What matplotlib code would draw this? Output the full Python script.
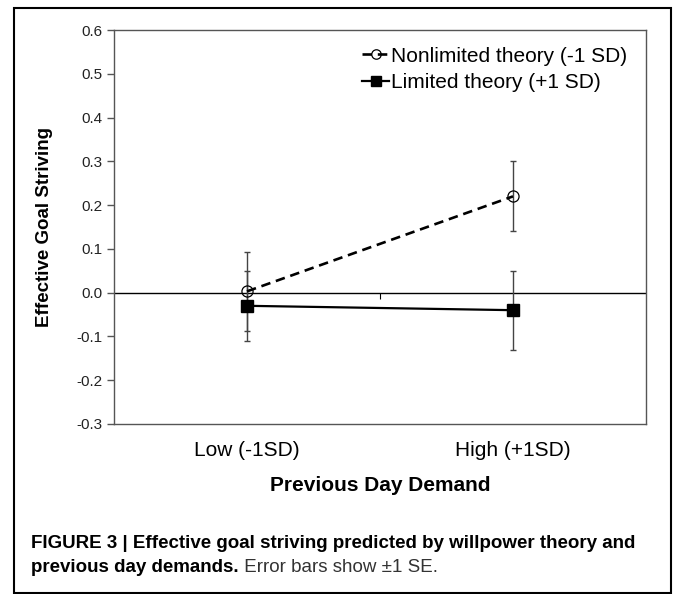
import matplotlib.pyplot as plt
from matplotlib.patches import Rectangle

plt.rcParams['font.family'] = ['Liberation Sans', 'DejaVu Sans']

categories = ['Low (-1SD)', 'High (+1SD)']
nonlimited = [0.003, 0.22]
nonlimited_se = [0.09, 0.08]
limited = [-0.03, -0.04]
limited_se = [0.08, 0.09]
yticks = [-0.3, -0.2, -0.1, 0.0, 0.1, 0.2, 0.3, 0.4, 0.5, 0.6]

fig = plt.figure(figsize=(6.75, 5.94), dpi=100)
ax = fig.add_axes([114/675, 1 - 424/594, 532/675, 394/594])

x = [0.5, 1.5]
frame = '#555555'

ax.errorbar(x, nonlimited, yerr=nonlimited_se, fmt='none', ecolor='#444444',
            elinewidth=1, capsize=2.5, capthick=1, zorder=2)
ax.errorbar(x, limited, yerr=limited_se, fmt='none', ecolor='#444444',
            elinewidth=1, capsize=2.5, capthick=1, zorder=2)
ax.axhline(0, color='black', lw=1, zorder=1)
ax.plot(x, nonlimited, color='black', ls=(0, (3.6, 2.2)), lw=1.9, marker='o',
        ms=8, mfc='none', mec='black', mew=0.9, label='Nonlimited theory (-1 SD)', zorder=3)
ax.plot(x, limited, color='black', ls='-', lw=1.6, marker='s',
        ms=9, mfc='black', mec='black', label='Limited theory (+1 SD)', zorder=3)

ax.set_xlim(0, 2)
ax.set_ylim(-0.3, 0.6)
ax.set_yticks(yticks)
ax.set_yticklabels([f'{v:.1f}' for v in yticks], fontsize=11, color='#222222')
ax.set_xticks(x)
ax.set_xticklabels(categories, fontsize=15)
ax.tick_params(axis='x', length=0, pad=12)
ax.tick_params(axis='y', length=5, color=frame, direction='out', width=1, pad=3)
for s in ax.spines.values():
    s.set_color(frame)
    s.set_linewidth(1)

# category divider tick on the zero line
sec = ax.secondary_xaxis(0, transform=ax.transData)
sec.set_xticks([1])
sec.tick_params(length=4, labelbottom=False, color='black')
sec.spines['bottom'].set_visible(False)

ax.set_xlabel('Previous Day Demand', fontsize=15, fontweight='bold', labelpad=12)
ax.set_ylabel('Effective Goal Striving', fontsize=13.5, fontweight='bold')
ax.yaxis.set_label_coords(-0.115, 0.5)

ax.legend(loc='upper right', bbox_to_anchor=(1.0, 1.005), frameon=False, fontsize=15,
          handlelength=1.3, handletextpad=0.1, labelspacing=0.35, markerscale=0.85)

fig.patches.append(Rectangle((14/675, 1/594), 657/675, 585/594, transform=fig.transFigure,
                             fill=False, edgecolor='black', lw=1.5))

fig.text(31/675, 1 - 543/594, 'FIGURE 3 | Effective goal striving predicted by willpower theory and',
         fontsize=13.5, fontweight='bold', va='center', ha='left')
t2 = fig.text(31/675, 1 - 568/594, 'previous day demands.', fontsize=13.5, fontweight='bold',
              va='center', ha='left')
ax.annotate(' Error bars show \u00b11 SE.', xy=(1, 0.5), xycoords=t2, va='center',
            ha='left', fontsize=13.5, color='#333333')

fig.savefig('out.png', dpi=100)
